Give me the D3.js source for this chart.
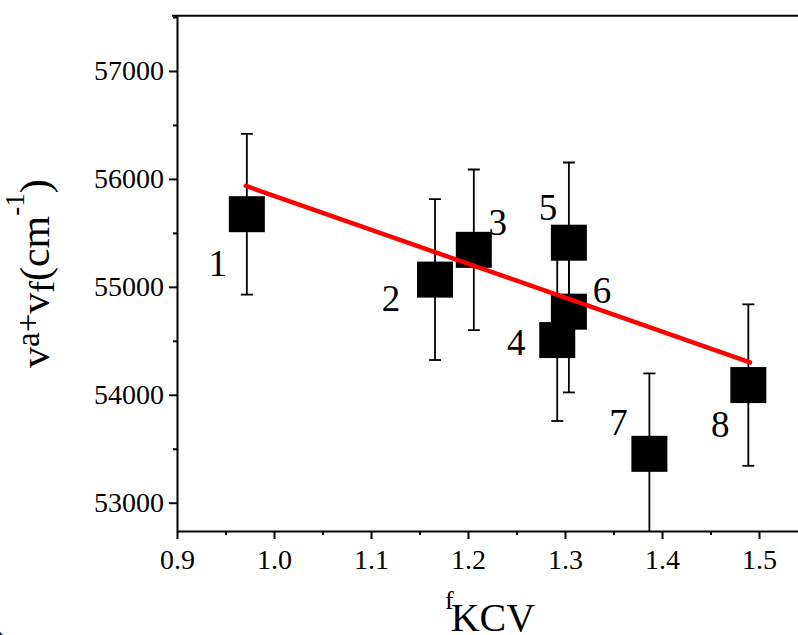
<!DOCTYPE html>
<html>
<head>
<meta charset="utf-8">
<script src="https://cdn.jsdelivr.net/npm/d3@7"></script>
</head>
<body style="margin:0">
<script>
// Sample numbers and their fKCV values
const pointLabels = ['1', '2', '3', '4', '5', '6', '7', '8'];
const fKCV = [0.972, 1.166, 1.206, 1.292, 1.304, 1.304, 1.387, 1.489];
const vaPlusVf = [55673, 55067, 55343, 54507, 55409, 54770, 53453, 54090];
const vaPlusVfErr = [745, 745, 744, 750, 743, 748, 745, 748];

// Linear fit drawn in red (end points)
const fitX = [0.971, 1.4907];
const fitY = [55935, 54300];

// Axis ticks
const xTicks = [0.9, 1.0, 1.1, 1.2, 1.3, 1.4, 1.5];
const xMinorTicks = [0.95, 1.05, 1.15, 1.25, 1.35, 1.45, 1.55];
const yTicks = [53000, 54000, 55000, 56000, 57000];
const yMinorTicks = [53500, 54500, 55500, 56500, 57500];

// Label offsets (px) from each marker centre: [dx, dy of baseline]
const labelOffsets = [[-29, 62], [-44, 31], [24, -15], [-41, 15], [-21, -23], [33, -9], [-31, -19], [-28, 52]];

const width = 798, height = 635;
const plot = { left: 177, top: 15.7, bottom: 531 };
const serif = '"Liberation Serif"';

const svg = d3.select('body').append('svg')
    .attr('width', width)
    .attr('height', height)
    .style('display', 'block')
    .style('background', '#fff');

const x = d3.scaleLinear()
    .domain([0.9, 1.6])
    .range([plot.left, plot.left + 0.7 * 970]);

const y = d3.scaleLinear()
    .domain([52738, 57512])
    .range([plot.bottom, plot.top]);

const data = fKCV.map((v, i) => ({
  x: v, y: vaPlusVf[i], err: vaPlusVfErr[i], label: pointLabels[i], off: labelOffsets[i]
}));

// minor ticks
svg.append('g')
    .attr('transform', 'translate(0,' + plot.bottom + ')')
    .call(d3.axisBottom(x).tickValues(xMinorTicks).tickSize(4).tickFormat(''))
    .call(g => g.select('.domain').remove())
    .call(g => g.selectAll('line').attr('stroke-width', 2));

svg.append('g')
    .attr('transform', 'translate(' + plot.left + ',0)')
    .call(d3.axisLeft(y).tickValues(yMinorTicks).tickSize(4).tickFormat(''))
    .call(g => g.select('.domain').remove())
    .call(g => g.selectAll('line').attr('stroke-width', 2));

// major axes
const xAxis = svg.append('g')
    .attr('transform', 'translate(0,' + plot.bottom + ')')
    .call(d3.axisBottom(x).tickValues(xTicks).tickSize(8).tickSizeOuter(0)
      .tickPadding(10).tickFormat(d3.format('.1f')));

const yAxis = svg.append('g')
    .attr('transform', 'translate(' + plot.left + ',0)')
    .call(d3.axisLeft(y).tickValues(yTicks).tickSize(8).tickSizeOuter(0)
      .tickPadding(5).tickFormat(d3.format('d')));

[xAxis, yAxis].forEach(g => {
  g.select('.domain').attr('stroke-width', 2);
  g.selectAll('line').attr('stroke-width', 2);
  g.selectAll('text')
    .style('font-family', serif)
    .style('font-size', '28px')
    .attr('fill', '#000');
});

// top frame line
svg.append('line')
    .attr('x1', plot.left - 5).attr('x2', width)
    .attr('y1', plot.top).attr('y2', plot.top)
    .attr('stroke', '#000').attr('stroke-width', 2);

svg.append('clipPath').attr('id', 'plotclip')
  .append('rect')
    .attr('x', plot.left).attr('y', plot.top)
    .attr('width', width - plot.left).attr('height', plot.bottom - plot.top);

const marks = svg.append('g').attr('clip-path', 'url(#plotclip)');

// error bars
const eb = marks.selectAll('.err').data(data).enter().append('g').attr('class', 'err')
    .attr('stroke', '#000').attr('stroke-width', 1.8);
eb.append('line')
    .attr('x1', d => x(d.x)).attr('x2', d => x(d.x))
    .attr('y1', d => y(d.y + d.err)).attr('y2', d => y(d.y - d.err));
eb.append('line')
    .attr('x1', d => x(d.x) - 6).attr('x2', d => x(d.x) + 6)
    .attr('y1', d => y(d.y + d.err)).attr('y2', d => y(d.y + d.err));
eb.append('line')
    .attr('x1', d => x(d.x) - 6).attr('x2', d => x(d.x) + 6)
    .attr('y1', d => y(d.y - d.err)).attr('y2', d => y(d.y - d.err));

// square markers
const size = 36;
marks.selectAll('.pt').data(data).enter().append('rect').attr('class', 'pt')
    .attr('x', d => x(d.x) - size / 2)
    .attr('y', d => y(d.y) - size / 2)
    .attr('width', size).attr('height', size)
    .attr('fill', '#000');

// fit line
marks.append('line')
    .attr('x1', x(fitX[0])).attr('y1', y(fitY[0]))
    .attr('x2', x(fitX[1])).attr('y2', y(fitY[1]))
    .attr('stroke', '#ff0000').attr('stroke-width', 4.5)
    .attr('stroke-linecap', 'round');

// point labels
svg.selectAll('.lbl').data(data).enter().append('text').attr('class', 'lbl')
    .attr('x', d => x(d.x) + d.off[0])
    .attr('y', d => y(d.y) + d.off[1])
    .attr('text-anchor', 'middle')
    .style('font-family', serif)
    .style('font-size', '37px')
    .text(d => d.label);

// x axis title
const xt = svg.append('text')
    .attr('x', 445).attr('y', 631)
    .style('font-family', serif)
    .style('font-size', '40px');
xt.append('tspan').style('font-size', '26px').attr('dy', -22).text('f');
xt.append('tspan').attr('dy', 22).attr('dx', -3).text('KCV');

// y axis title
const yt = svg.append('text')
    .attr('transform', 'translate(49,368) rotate(-90)')
    .style('font-family', serif)
    .style('font-size', '42px');
yt.append('tspan').text('v');
yt.append('tspan').style('font-size', '33px').attr('dy', -10).text('a+');
yt.append('tspan').attr('dy', 10).text('v');
yt.append('tspan').style('font-size', '35px').attr('dy', 5).text('f');
yt.append('tspan').attr('dy', -5).text('(cm');
yt.append('tspan').style('font-size', '27px').attr('dy', -25).text('-1');
yt.append('tspan').attr('dy', 25).text(')');

// stray panel-label fragment at bottom-left
svg.append('text').attr('x', -6).attr('y', 657)
    .style('font-family', serif).style('font-size', '40px').text(')');
</script>
</body>
</html>
